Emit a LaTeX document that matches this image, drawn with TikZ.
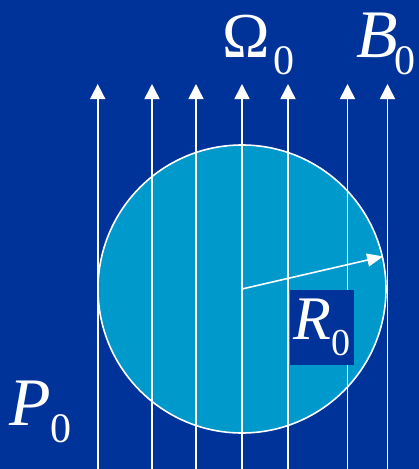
\documentclass[tikz,border=0pt]{standalone}
\usepackage{fontspec}
\setmainfont{Liberation Serif}
\usetikzlibrary{arrows.meta}
\definecolor{bgblue}{RGB}{0,51,153}
\definecolor{ballblue}{RGB}{0,153,204}
\tikzset{
  fieldline/.style={draw=white, line width=1.6pt, -{Triangle[width=15pt,length=15pt]}},
  radiusline/.style={draw=white, line width=1.6pt, -{Triangle[width=13pt,length=16pt]}},
  biglabel/.style={anchor=base west, inner sep=0pt, text=white},
}
\newcommand{\bigsym}[3]{{\fontsize{#1}{#1}\selectfont #2}\hspace{#3}\raisebox{-17pt}{\fontsize{42}{42}\selectfont\upshape 0}}
\begin{document}
\begin{tikzpicture}[x=1pt,y=-1pt]
\useasboundingbox (0,0) rectangle (419,469);
\fill[bgblue] (0,0) rectangle (419,469);
\node (ball) [circle, draw=white, fill=ballblue, line width=1.6pt, minimum size=288pt, inner sep=0pt] at (242,289) {};
\foreach \i/\x in {1/97.7,2/152,3/196,4/242,5/288,6/347.5,7/387.5}{
  \coordinate (b\i) at (\x,470);
  \coordinate (t\i) at (\x,84);
  \draw[fieldline] (b\i) -- (t\i);
}
\draw[radiusline] (ball.center) -- (ball.13.3);
\node (rbox) [fill=bgblue, minimum width=64pt, minimum height=75pt, inner sep=0pt, anchor=north west] at (289.3,290) {};
\node (rlab) [biglabel] at (293,339) {{\fontsize{62}{62}\selectfont\itshape R}\raisebox{-16pt}{\fontsize{38}{38}\selectfont 0}};
\node (omega) [biglabel] at (222,57) {\bigsym{64}{Ω}{4pt}};
\node (bfield) [biglabel] at (356,57) {\bigsym{68}{\itshape B}{-3pt}};
\node (press) [biglabel] at (9,425) {\bigsym{68}{\itshape P}{0pt}};
\end{tikzpicture}
\end{document}
